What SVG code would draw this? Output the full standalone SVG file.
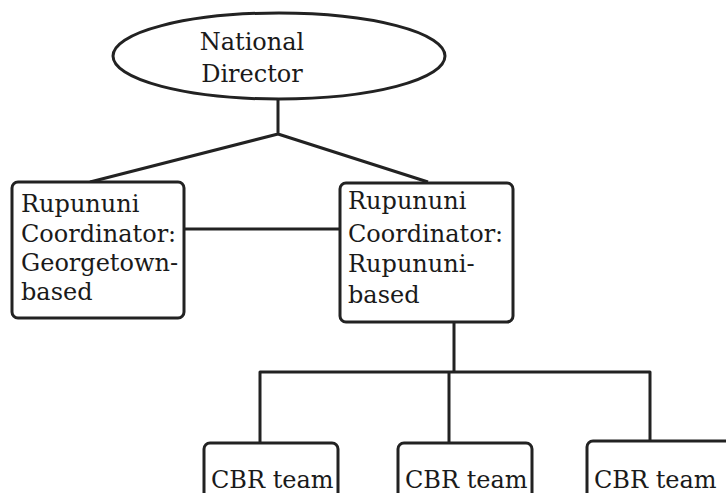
<svg xmlns="http://www.w3.org/2000/svg" width="726" height="493" viewBox="0 0 726 493">
<style>
.n{fill:#fff;stroke:#222;stroke-width:3}
.c{fill:none;stroke:#222;stroke-width:3;stroke-linejoin:round}
text{font-family:"DejaVu Serif","Liberation Serif",serif;font-size:24px;fill:#1a1a1a}
</style>
<rect width="726" height="493" fill="#fff"/>
<g id="connectors">
<path class="c" d="M278,100 V134 M90,182 L278,134 L428,182"/>
<path class="c" d="M184,229 H340"/>
<path class="c" d="M454,322 V372 M260,443 V372 H650 V443 M449,372 V443"/>
</g>
<g id="national-director">
<ellipse class="n" cx="279" cy="56" rx="166" ry="43"/>
<text x="252" y="50" text-anchor="middle">National</text>
<text x="252" y="82" text-anchor="middle">Director</text>
</g>
<g id="coord-georgetown">
<rect class="n" x="12" y="182" width="172" height="136" rx="6"/>
<text x="21" y="212">Rupununi</text>
<text x="21" y="242">Coordinator:</text>
<text x="21" y="271">Georgetown-</text>
<text x="21" y="300">based</text>
</g>
<g id="coord-rupununi">
<rect class="n" x="340" y="183" width="173" height="139" rx="6"/>
<text x="348" y="209">Rupununi</text>
<text x="348" y="242">Coordinator:</text>
<text x="348" y="272">Rupununi-</text>
<text x="348" y="303">based</text>
</g>
<g id="cbr1">
<rect class="n" x="204" y="443" width="134" height="70" rx="6"/>
<text x="211" y="488">CBR team</text>
</g>
<g id="cbr2">
<rect class="n" x="398" y="443" width="134" height="70" rx="6"/>
<text x="405" y="488">CBR team</text>
</g>
<g id="cbr3">
<rect class="n" x="587" y="441" width="150" height="70" rx="6"/>
<text x="594" y="488">CBR team</text>
</g>
</svg>
